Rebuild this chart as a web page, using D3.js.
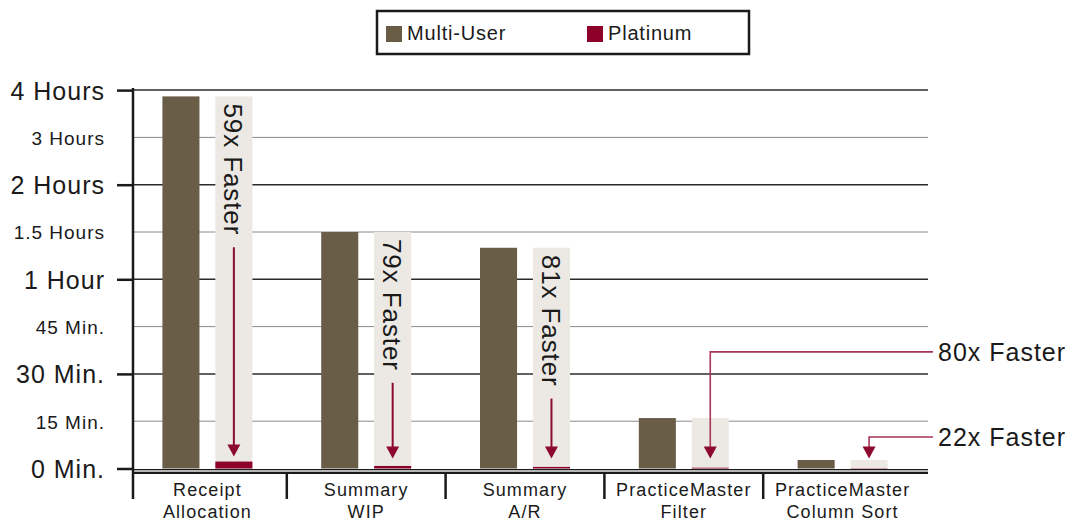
<!DOCTYPE html>
<html>
<head>
<meta charset="utf-8">
<script src="https://cdn.jsdelivr.net/npm/d3@7"></script>
<style>
  body { margin: 0; background: #fff; }
  svg { display: block; }
  text { font-family: "Liberation Sans", Arial, sans-serif; fill: #1a1a1a; }
</style>
</head>
<body>
<div id="chart"></div>
<script>
// values in minutes
const categories = [['Receipt', 'Allocation'], ['Summary', 'WIP'], ['Summary', 'A/R'],
                    ['PracticeMaster', 'Filter'], ['PracticeMaster', 'Column Sort']];
const seriesNames = ['Multi-User', 'Platinum'];
const multiUser = [232, 90, 80, 16, 2.7];
const platinum = [2.2, 0.8, 0.5, 0.25, 0.1];
const speedup = ['59x Faster', '79x Faster', '81x Faster', '80x Faster', '22x Faster'];
const tickValues = [0, 15, 30, 45, 60, 90, 120, 180, 240];
const tickLabels = ['0 Min.', '15 Min.', '30 Min.', '45 Min.', '1 Hour', '1.5 Hours', '2 Hours', '3 Hours', '4 Hours'];
const majorTicks = [0, 30, 60, 120, 240];

const width = 1073;
const height = 523;
const axisX = 133;
const gridRight = 928;
const colors = { 'Multi-User': '#695d48', 'Platinum': '#8c0029' };
const bgColor = '#ece9e4';
const arrowColor = '#8c0a2e';

const svg = d3.select('#chart')
    .append('svg')
        .attr('width', width)
        .attr('height', height);

const x = d3.scaleBand()
    .domain(d3.range(categories.length))
    .range([128, 922]);
const xs = d3.scaleBand()
    .domain(seriesNames)
    .range([0, x.bandwidth()])
    .paddingInner(0.3)
    .paddingOuter(0.65);
// uneven axis: each labelled value sits on an equal step
const y = d3.scaleLinear()
    .domain(tickValues)
    .range(tickValues.map((d, i) => 468.5 - i * 47.3));

// grid
svg.append('g')
    .selectAll('line')
    .data(tickValues.filter(d => d > 0))
    .enter()
    .append('line')
        .attr('x1', axisX)
        .attr('x2', gridRight)
        .attr('y1', d => y(d))
        .attr('y2', d => y(d))
        .attr('stroke', d => majorTicks.includes(d) ? '#2b2b2b' : '#8a8a8a')
        .attr('stroke-width', d => majorTicks.includes(d) ? 1.5 : 1);

// y axis
const yAxis = svg.append('g')
    .attr('transform', `translate(${axisX}, 0)`)
    .call(d3.axisLeft(y)
        .tickValues(tickValues)
        .tickFormat((d, i) => tickLabels[i])
        .tickSize(16)
        .tickPadding(12));
yAxis.select('.domain').remove();
yAxis.selectAll('.tick line')
    .attr('stroke', '#1a1a1a')
    .attr('stroke-width', 2.5)
    .attr('opacity', d => majorTicks.includes(d) ? 1 : 0);
yAxis.selectAll('.tick text')
    .attr('font-family', '"Liberation Sans", Arial, sans-serif')
    .attr('font-size', d => majorTicks.includes(d) ? 25 : 19)
    .attr('letter-spacing', 1)
    .attr('fill', '#1a1a1a')
    .attr('dy', '0.36em');

// bars
const groups = svg.append('g')
    .selectAll('g')
    .data(categories.map((c, i) => i))
    .enter()
    .append('g')
        .attr('transform', i => `translate(${x(i)}, 0)`);

groups.append('rect')
    .attr('x', xs('Multi-User'))
    .attr('y', i => y(multiUser[i]))
    .attr('width', xs.bandwidth())
    .attr('height', i => y(0) - y(multiUser[i]))
    .attr('fill', colors['Multi-User']);

groups.append('rect')
    .attr('x', xs('Platinum'))
    .attr('y', i => y(multiUser[i]))
    .attr('width', xs.bandwidth())
    .attr('height', i => y(0) - y(multiUser[i]))
    .attr('fill', bgColor);

groups.append('rect')
    .attr('x', xs('Platinum'))
    .attr('y', i => y(platinum[i]))
    .attr('width', xs.bandwidth())
    .attr('height', i => y(0) - y(platinum[i]))
    .attr('fill', colors['Platinum']);

// baseline
svg.append('rect')
    .attr('x', axisX).attr('y', y(0) + 1)
    .attr('width', gridRight - axisX).attr('height', 4)
    .attr('fill', '#b5b5b5');
svg.append('line')
    .attr('x1', axisX).attr('x2', gridRight)
    .attr('y1', y(0) + 1).attr('y2', y(0) + 1)
    .attr('stroke', '#1a1a1a').attr('stroke-width', 1.2);
svg.append('line')
    .attr('x1', axisX).attr('x2', gridRight)
    .attr('y1', y(0) + 4.5).attr('y2', y(0) + 4.5)
    .attr('stroke', '#1a1a1a').attr('stroke-width', 2);

// axis line and category separators
svg.append('line')
    .attr('x1', axisX).attr('x2', axisX)
    .attr('y1', 88).attr('y2', 499)
    .attr('stroke', '#1a1a1a').attr('stroke-width', 2.5);
svg.append('g')
    .selectAll('line')
    .data(d3.range(1, categories.length))
    .enter()
    .append('line')
        .attr('x1', i => x(i)).attr('x2', i => x(i))
        .attr('y1', y(0) + 5).attr('y2', 499)
        .attr('stroke', '#1a1a1a').attr('stroke-width', 2.5);

// category labels
const labels = svg.append('g')
    .selectAll('text')
    .data(categories)
    .enter()
    .append('text')
        .attr('text-anchor', 'middle')
        .attr('font-size', 18)
        .attr('letter-spacing', 1.1)
        .attr('fill', '#222');
labels.selectAll('tspan')
    .data((d, i) => d.map(line => ({ line, i })))
    .enter()
    .append('tspan')
        .attr('x', d => x(d.i) + x.bandwidth() / 2)
        .attr('y', (d, j) => 496 + j * 22)
        .text(d => d.line);

// annotations
const calloutAt = { 3: 37, 4: 10 };
const arrowHead = (g, cx, tip) => g.append('path')
    .attr('d', `M${cx - 6.5},${tip - 12}L${cx + 6.5},${tip - 12}L${cx},${tip}Z`)
    .attr('fill', arrowColor);

categories.forEach((c, i) => {
    const cx = x(i) + xs('Platinum') + xs.bandwidth() / 2;
    const tip = Math.min(y(platinum[i]) - 5, y(0) - 10);
    const g = svg.append('g');
    if (calloutAt[i] === undefined) {
        const top = y(multiUser[i]) + 7;
        const t = g.append('text')
            .attr('transform', `translate(${cx}, ${top}) rotate(90)`)
            .attr('dy', '0.36em')
            .attr('font-size', 26)
            .attr('letter-spacing', 0.9)
            .text(speedup[i]);
        const len = t.node().getComputedTextLength();
        g.append('line')
            .attr('x1', cx).attr('x2', cx)
            .attr('y1', top + len + 12).attr('y2', tip - 11)
            .attr('stroke', arrowColor).attr('stroke-width', 2);
        arrowHead(g, cx, tip);
    } else {
        const ly = y(calloutAt[i]);
        g.append('path')
            .attr('d', `M${gridRight + 5},${ly}H${cx}V${tip - 11}`)
            .attr('fill', 'none')
            .attr('stroke', '#a83656').attr('stroke-width', 1.6);
        arrowHead(g, cx, tip);
        g.append('text')
            .attr('x', gridRight + 10)
            .attr('y', ly)
            .attr('dy', '0.36em')
            .attr('font-size', 25)
            .attr('letter-spacing', 1)
            .text(speedup[i]);
    }
});

// legend
const legend = svg.append('g');
legend.append('rect')
    .attr('x', 377).attr('y', 11)
    .attr('width', 372).attr('height', 43)
    .attr('fill', '#fff')
    .attr('stroke', '#1a1a1a').attr('stroke-width', 2.5);
const items = legend.selectAll('g')
    .data(seriesNames)
    .enter()
    .append('g')
        .attr('transform', (d, i) => `translate(${386 + i * 201}, 26)`);
items.append('rect')
    .attr('width', 16).attr('height', 16)
    .attr('fill', d => colors[d]);
items.append('text')
    .attr('x', 21).attr('y', 14)
    .attr('font-size', 20)
    .attr('letter-spacing', 0.8)
    .text(d => d);
</script>
</body>
</html>
